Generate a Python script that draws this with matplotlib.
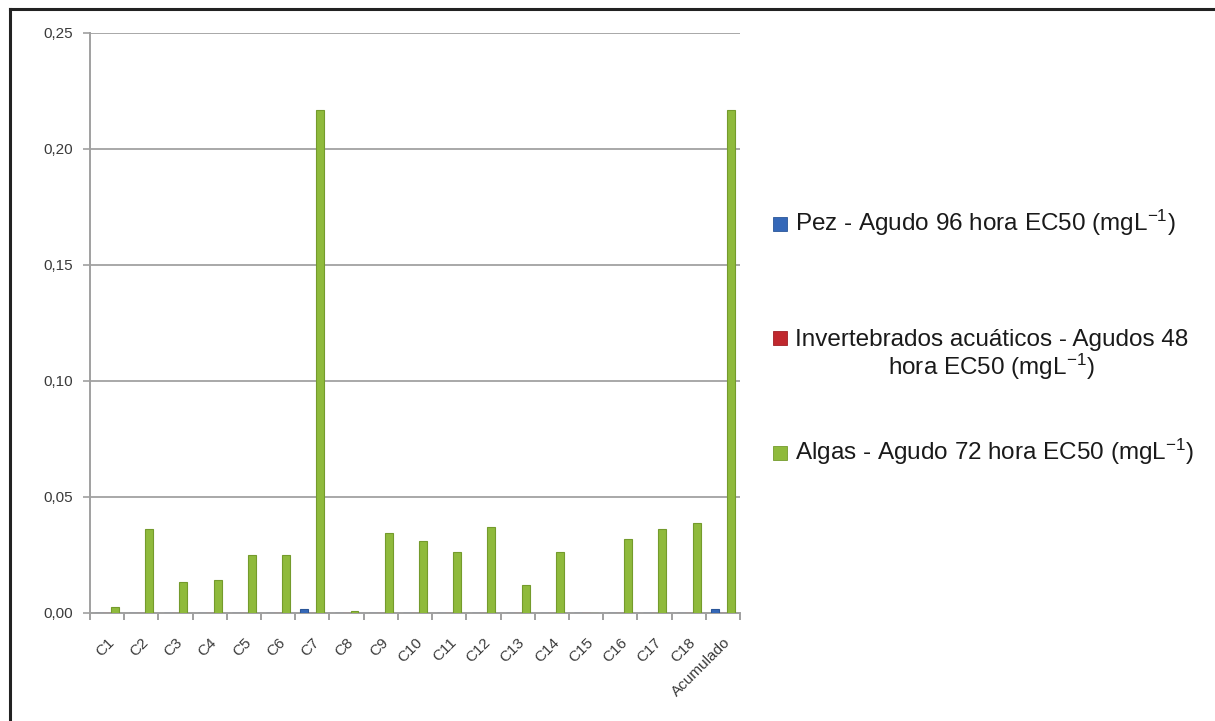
import numpy as np
import matplotlib
matplotlib.use('Agg')
import matplotlib.pyplot as plt
from matplotlib.patches import Rectangle
from matplotlib.lines import Line2D

# %% data
categories = ['C1', 'C2', 'C3', 'C4', 'C5', 'C6', 'C7', 'C8', 'C9', 'C10',
              'C11', 'C12', 'C13', 'C14', 'C15', 'C16', 'C17', 'C18', 'Acumulado']
pez = [0, 0, 0, 0, 0, 0, 0.0018, 0, 0, 0,
       0, 0, 0, 0, 0, 0, 0, 0, 0.0018]
invertebrados = [0] * 19
algas = [0.0025, 0.0364, 0.0132, 0.0141, 0.0250, 0.0250, 0.2167, 0.0010, 0.0344, 0.0310,
         0.0261, 0.0371, 0.0120, 0.0261, 0.0, 0.0321, 0.0364, 0.0389, 0.2167]
yticks = [0, 0.05, 0.10, 0.15, 0.20, 0.25]
ytick_labels = ['0,00', '0,05', '0,10', '0,15', '0,20', '0,25']
labels = ['Pez - Agudo 96 hora EC50 (mgL$^{-1}$)',
          'Invertebrados acuáticos - Agudos 48\nhora EC50 (mgL$^{-1}$)',
          'Algas - Agudo 72 hora EC50 (mgL$^{-1}$)']
colors = ['#3568b8', '#c0282e', '#8fba3c']
edges = ['#2a5699', '#a01f25', '#749b2c']

# %% style
plt.rcParams['font.family'] = ['Liberation Sans', 'DejaVu Sans']
plt.rcParams['mathtext.fontset'] = 'custom'
plt.rcParams['mathtext.rm'] = 'Liberation Sans'
plt.rcParams['mathtext.default'] = 'regular'

W, H = 1215, 721
fig = plt.figure(figsize=(W / 100, H / 100), dpi=100)
ax = fig.add_axes([90 / W, 1 - 613 / H, 650 / W, 580 / H])

def fx(x):
    return x / W

def fy(y):
    return 1 - y / H

# %% bars
x = np.arange(len(categories))
w = 0.232
for i, (vals, lab) in enumerate(zip([pez, invertebrados, algas], labels)):
    ax.bar(x + (i - 1) * w, vals, width=w, color=colors[i], edgecolor=edges[i],
           linewidth=0.8, label=lab, zorder=3)

ax.set_xlim(-0.5, len(categories) - 0.5)
ax.set_ylim(0, 0.25)
ax.set_yticks(yticks)
ax.set_yticklabels(ytick_labels)
ax.set_xticks(x)
ax.set_xticklabels(categories, rotation=45, ha='right', rotation_mode='anchor')
ax.set_xticks(np.arange(-0.5, len(categories)), minor=True)
ax.tick_params(axis='x', which='major', length=0, pad=16, labelsize=11, labelcolor='#3a3a3a')
ax.tick_params(axis='x', which='minor', length=5, width=1.2, color='#909090', direction='out')
ax.tick_params(axis='y', length=5, width=1.2, color='#a0a0a0', labelsize=11,
               labelcolor='#3a3a3a', pad=7)
ax.yaxis.grid(True, color='#a8a8a8', linewidth=1.4, zorder=0)
for s in ['top', 'right']:
    ax.spines[s].set_visible(False)
for s in ['left', 'bottom']:
    ax.spines[s].set_color('#a0a0a0')
    ax.spines[s].set_linewidth(1.4)
ax.set_axisbelow(True)

# %% legend (placed by hand, entries not evenly spaced in the original)
square_tops = [217, 331, 446]
text_baselines = [231, 375, 460]   # last line baseline for each entry
for lab, c, e, ys, yb in zip(labels, colors, edges, square_tops, text_baselines):
    fig.add_artist(Rectangle((fx(773), fy(ys + 14)), fx(14), 14 / H,
                             facecolor=c, edgecolor=e, linewidth=0.6,
                             transform=fig.transFigure))
    fig.text(fx(795), fy(yb), lab, fontsize=17.5, color='#1a1a1a',
             ha='left', va='baseline', multialignment='center', linespacing=1.05)

# %% outer frame (top and left edges only)
fig.add_artist(Line2D([fx(10), 1], [fy(9), fy(9)], color='#222222', linewidth=2.2,
                      transform=fig.transFigure))
fig.add_artist(Line2D([fx(10), fx(10)], [fy(9), 0], color='#222222', linewidth=2.2,
                      transform=fig.transFigure))

fig.savefig('out.png', dpi=100)
